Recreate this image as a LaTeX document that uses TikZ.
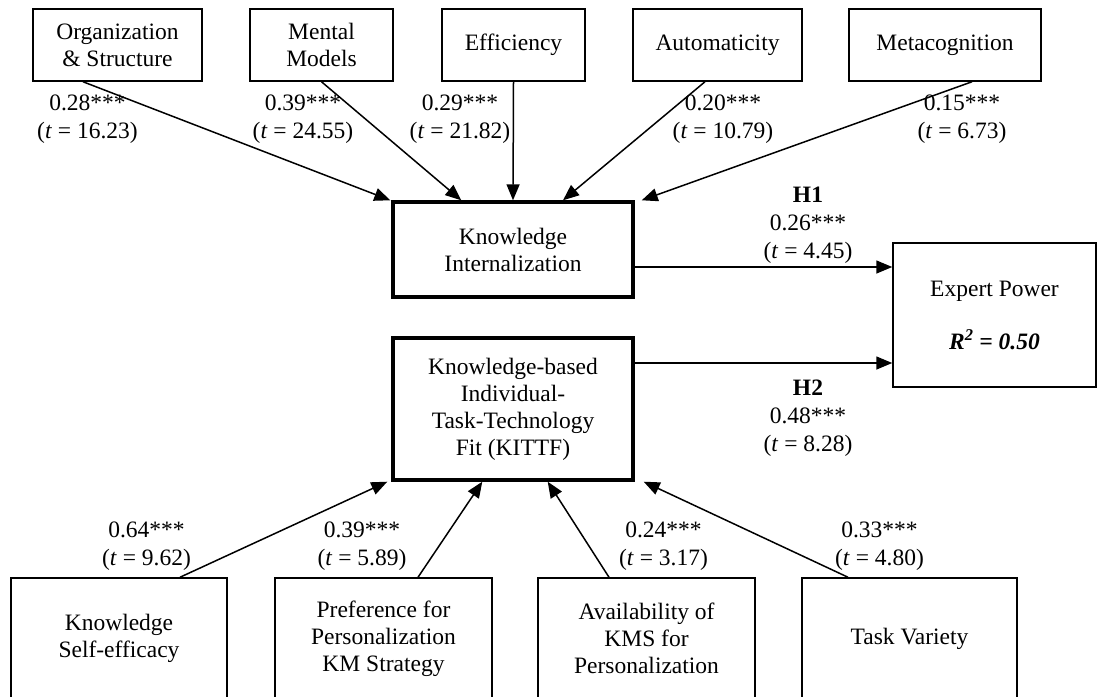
\documentclass[tikz,border=0pt]{standalone}
\usepackage{fontspec}
\setmainfont{Liberation Serif}
\usetikzlibrary{arrows.meta}
\begin{document}
\begin{tikzpicture}[x=1pt,y=-1pt,
  every node/.style={font=\fontsize{23.5}{27}\selectfont, align=center, inner sep=0pt},
  box/.style={draw, line width=1.5pt},
  core/.style={draw, line width=3.4pt},
  coef/.style={font=\fontsize{23.5}{28}\selectfont},
  arr/.style={line width=1.5pt, -{Triangle[length=16pt,width=13pt]}}]
\fill[white] (0,0) rectangle (1097,696);
\useasboundingbox (0,0) rectangle (1097,696);

% antecedents of knowledge internalization
\node[box, minimum width=169pt, minimum height=72pt] (org)    at (117.5,45) {Organization\\\& Structure};
\node[box, minimum width=143pt, minimum height=72pt] (mental) at (321.5,45) {Mental\\Models};
\node[box, minimum width=143pt, minimum height=72pt] (eff)    at (513.5,45) {Efficiency};
\node[box, minimum width=169pt, minimum height=72pt] (auto)   at (717.5,45) {Automaticity};
\node[box, minimum width=192pt, minimum height=72pt] (meta)   at (945,45)   {Metacognition};

% core constructs
\node[core, minimum width=240pt, minimum height=95pt]  (ki)    at (513,249.5) {Knowledge\\Internalization};
\node[core, minimum width=240pt, minimum height=142pt] (kittf) at (513,409) {Knowledge-based\\Individual-\\Task-Technology\\Fit (KITTF)};

% outcome
\node[box, minimum width=203pt, minimum height=144pt] (ep) at (994.5,315)
  {Expert Power\\[26pt]\textbf{\textit{R\textsuperscript{2} = 0.50}}};

% antecedents of KITTF
\node[box, minimum width=216pt, minimum height=121pt] (kse)   at (119,638.5)   {Knowledge\\Self-efficacy};
\node[box, minimum width=217pt, minimum height=121pt] (pref)  at (383.5,638.5) {Preference for\\Personalization\\KM Strategy};
\node[box, minimum width=217pt, minimum height=121pt] (avail) at (646.5,638.5) {Availability of\\KMS for\\Personalization};
\node[box, minimum width=215pt, minimum height=121pt] (tv)    at (909.5,638.5) {Task Variety};

% paths into knowledge internalization
\draw[arr] ([xshift=-34.5pt]org.south) -- ([xshift=-1pt]ki.north west);
\draw[arr] (mental.south) -- ([xshift=70pt]ki.north west);
\draw[arr] (eff.south) -- (ki.north);
\draw[arr] ([xshift=-12.5pt]auto.south) -- ([xshift=50pt]ki.north);
\draw[arr] ([xshift=27pt]meta.south) -- ([xshift=7pt]ki.north east);

% hypotheses
\coordinate (h1s) at ([yshift=-17.5pt]ki.east);
\coordinate (h2s) at ([yshift=46pt]kittf.east);
\draw[arr] (h1s) -- (h1s -| ep.west);
\draw[arr] (h2s) -- (h2s -| ep.west);

% path coefficients
\node[coef] (c1) at (87.5,119) {0.28***\\(\textit{t} = 16.23)};
\node[coef] (c2) at (303,119)  {0.39***\\(\textit{t} = 24.55)};
\node[coef] (c3) at (460,119)  {0.29***\\(\textit{t} = 21.82)};
\node[coef] (c4) at (723,119)  {0.20***\\(\textit{t} = 10.79)};
\node[coef] (c5) at (962,119)  {0.15***\\(\textit{t} = 6.73)};

\node[coef] (h1) at (808,225) {\textbf{H1}\\0.26***\\(\textit{t} = 4.45)};
\node[coef] (h2) at (808,418) {\textbf{H2}\\0.48***\\(\textit{t} = 8.28)};

\node[coef] (c6) at (146.5,546) {0.64***\\(\textit{t} = 9.62)};
\node[coef] (c7) at (362,546)   {0.39***\\(\textit{t} = 5.89)};
\node[coef] (c8) at (663.5,546) {0.24***\\(\textit{t} = 3.17)};
\node[coef] (c9) at (879.5,546) {0.33***\\(\textit{t} = 4.80)};

% paths into KITTF
\draw[arr] ([xshift=61pt]kse.north)    -- ([xshift=-4pt]kittf.south west);
\draw[arr] ([xshift=34.5pt]pref.north) -- ([xshift=91pt]kittf.south west);
\draw[arr] ([xshift=-37.5pt]avail.north) -- ([xshift=-87pt]kittf.south east);
\draw[arr] ([xshift=-61.5pt]tv.north)  -- ([xshift=9pt]kittf.south east);
\end{tikzpicture}
\end{document}
